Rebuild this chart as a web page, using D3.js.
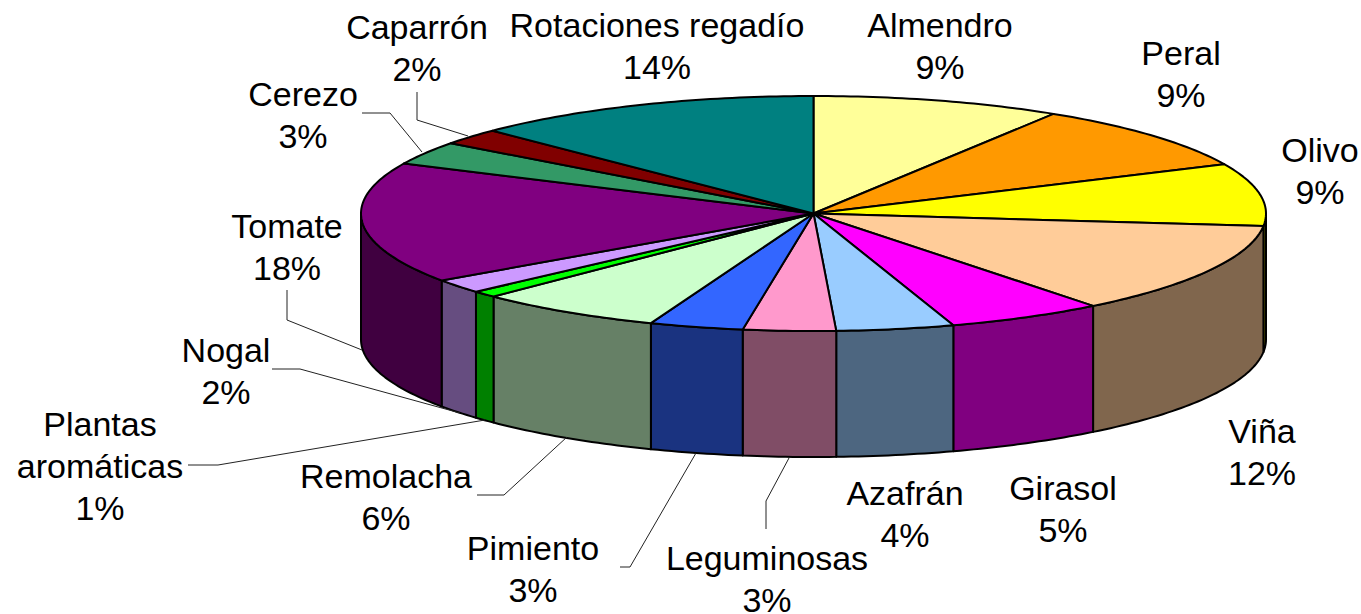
<!DOCTYPE html>
<html>
<head>
<meta charset="utf-8">
<script src="https://d3js.org/d3.v7.min.js"></script>
<style>
    html, body { margin: 0; padding: 0; background: #fff; }
    svg { display: block; }
    text { font-family: "Liberation Sans", Arial, sans-serif; font-size: 34px; fill: #000; }
</style>
</head>
<body>
<div id="chart"></div>
<script>
// slices start at 12 o'clock and go clockwise
const crops = ["Almendro", "Peral", "Olivo", "Viña", "Girasol", "Azafrán", "Leguminosas", "Pimiento",
    "Remolacha", "Plantas aromáticas", "Nogal", "Tomate", "Cerezo", "Caparrón", "Rotaciones regadío"];
// printed percentages
const percentLabels = [9, 9, 9, 12, 5, 4, 3, 3, 6, 1, 2, 18, 3, 2, 14];
// share of the ellipse each slice takes up in the drawing (3d tilt skews it a bit from the printed %)
const drawnShare = [8.9, 9.2, 8.6, 12.7, 5.6, 4.2, 3.3, 3.35, 6.65, 0.9, 1.95, 16.65, 3.2, 2.25, 12.55];
const topColors = ["#FFFF99", "#FF9900", "#FFFF00", "#FFCC99", "#FF00FF", "#99CCFF", "#FF99CC", "#3366FF",
    "#CCFFCC", "#00FF00", "#CC99FF", "#800080", "#339966", "#800000", "#008080"];

const width = 1361, height = 614;
const cx = 813.5, cy = 213.5, rx = 452.5, ry = 117.5, depth = 126;

// label placement: centre x, first baseline, text lines, leader polyline
const labelLayout = {
    "Almendro": { x: 940, y: 37 },
    "Peral": { x: 1181, y: 65 },
    "Olivo": { x: 1320, y: 162 },
    "Viña": { x: 1262, y: 443 },
    "Girasol": { x: 1063, y: 500 },
    "Azafrán": { x: 905, y: 505 },
    "Leguminosas": { x: 767, y: 570, leader: [[766, 529], [766, 501], [789, 458]] },
    "Pimiento": { x: 533, y: 560, leader: [[620, 567], [630, 567], [696, 453]] },
    "Remolacha": { x: 386, y: 488, leader: [[477, 495], [504, 495], [567, 437]] },
    "Plantas aromáticas": { x: 100, y: 436, lines: ["Plantas", "aromáticas"], leader: [[188, 465], [218, 465], [485, 420]] },
    "Nogal": { x: 226, y: 362, leader: [[272, 369], [300, 369], [460, 413]] },
    "Tomate": { x: 287, y: 238, leader: [[287, 290], [287, 320], [362, 350]] },
    "Cerezo": { x: 303, y: 106, leader: [[362, 113], [390, 113], [422, 152]] },
    "Caparrón": { x: 417, y: 39, leader: [[417, 92], [417, 120], [468, 136]] },
    "Rotaciones regadío": { x: 657, y: 37 }
};
const lineGap = 42;

const svg = d3.select("#chart").append("svg")
    .attr("width", width)
    .attr("height", height);

const x = d3.scaleLinear().domain([-1, 1]).range([cx - rx, cx + rx]);
const y = d3.scaleLinear().domain([-1, 1]).range([cy - ry, cy + ry]);

const pie = d3.pie().sort(null).value((d, i) => drawnShare[i]);
const slices = pie(crops);

// points along the rim between two angles, dy pushes them down to the bottom rim
function rim(a0, a1, dy) {
    const n = Math.max(2, Math.ceil((a1 - a0) * 60));
    return d3.range(n + 1).map(i => {
        const a = a0 + (a1 - a0) * i / n;
        return [x(Math.sin(a)), y(-Math.cos(a)) + dy];
    });
}

const line = d3.line();

// side wall is half the brightness of the top
function sideColor(c) {
    const rgb = d3.rgb(c);
    return d3.rgb(rgb.r / 2, rgb.g / 2, rgb.b / 2).formatHex();
}

// only the front half of the cylinder shows
const frontStart = Math.PI / 2, frontEnd = Math.PI * 3 / 2;

const sides = slices
    .map((s, i) => ({ a0: Math.max(s.startAngle, frontStart), a1: Math.min(s.endAngle, frontEnd), color: topColors[i] }))
    .filter(d => d.a1 > d.a0);

svg.append("g").attr("class", "sides")
    .selectAll("path")
    .data(sides)
    .enter().append("path")
    .attr("d", d => line(rim(d.a0, d.a1, 0).concat(rim(d.a0, d.a1, depth).reverse())) + "Z")
    .attr("fill", d => sideColor(d.color))
    .attr("stroke", "#000")
    .attr("stroke-width", 2)
    .attr("stroke-linejoin", "round");

svg.append("g").attr("class", "tops")
    .selectAll("path")
    .data(slices)
    .enter().append("path")
    .attr("d", d => line([[cx, cy]].concat(rim(d.startAngle, d.endAngle, 0))) + "Z")
    .attr("fill", (d, i) => topColors[i])
    .attr("stroke", "#000")
    .attr("stroke-width", 2)
    .attr("stroke-linejoin", "round");

// leaders
svg.append("g").attr("class", "leaders")
    .selectAll("path")
    .data(crops.filter(c => labelLayout[c].leader))
    .enter().append("path")
    .attr("d", c => line(labelLayout[c].leader))
    .attr("fill", "none")
    .attr("stroke", "#222")
    .attr("stroke-width", 1);

// labels
const labels = svg.append("g").attr("class", "labels")
    .selectAll("text")
    .data(crops)
    .enter().append("text")
    .attr("text-anchor", "middle");

labels.each(function(c, i) {
    const pos = labelLayout[c];
    const rows = (pos.lines || [c]).concat(percentLabels[i] + "%");
    d3.select(this).selectAll("tspan")
        .data(rows)
        .enter().append("tspan")
        .attr("x", pos.x)
        .attr("y", (d, j) => pos.y + j * lineGap)
        .text(d => d);
});
</script>
</body>
</html>
